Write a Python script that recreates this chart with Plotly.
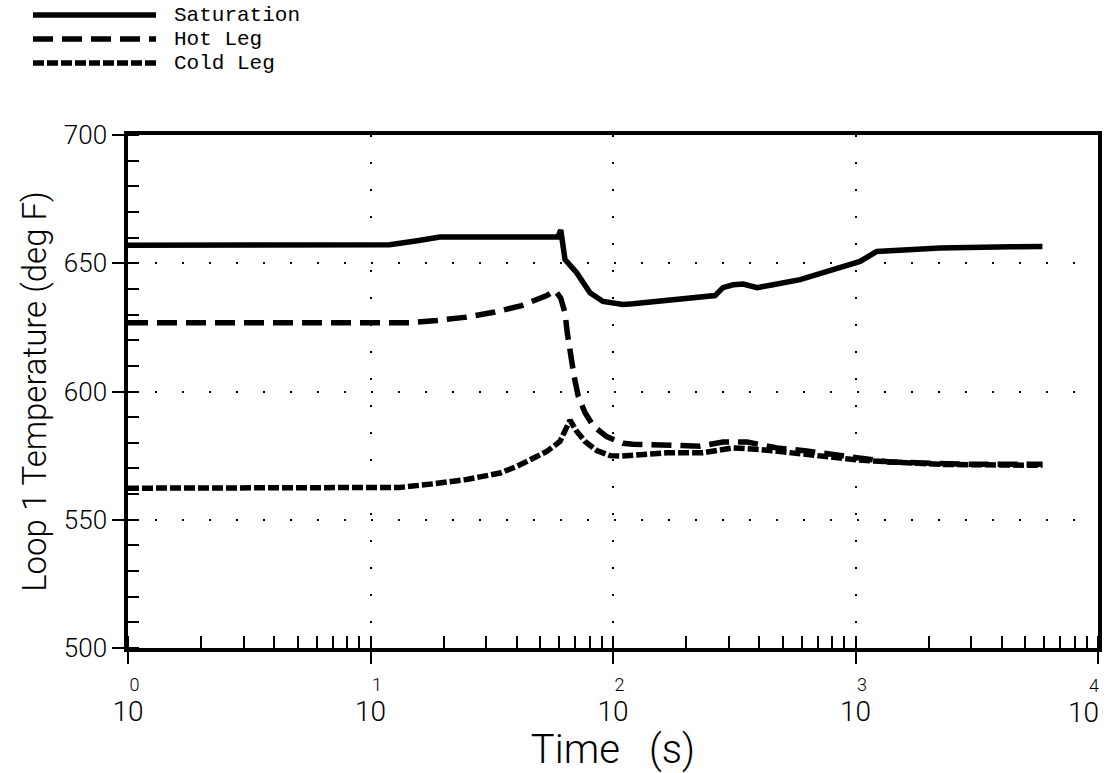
import plotly.graph_objects as go

# ---------------- data ----------------
t_sat = [1, 10.6, 12.0, 15.6, 19.3, 40, 59.3, 60.9, 63.4, 70.8, 80.4, 90.9, 110, 121,
         167, 263.5, 284, 313, 344, 393, 457, 591, 808, 1044, 1223, 2230, 4400, 5900]
sat = [657.0, 657.0, 657.2, 658.8, 660.2, 660.2, 660.2, 663.0, 651.4, 646.3, 638.5, 635.1, 633.9, 634.2,
       635.4, 637.4, 640.5, 641.6, 641.9, 640.5, 641.6, 643.6, 647.5, 650.7, 654.6, 655.9, 656.4, 656.5]

t_hot = [1, 10.6, 14.5, 18.8, 24.9, 32.6, 42, 53.3, 57.7, 60.9, 63.4, 64.8, 66.5, 69.1,
         71.9, 76.7, 83, 94.2, 110, 121, 228, 284, 357, 475, 631, 807, 1387, 3050, 5900]
hot = [626.8, 626.8, 626.8, 627.7, 629.0, 631.0, 633.5, 637.4, 639.4, 636.4, 630.6, 622.8, 615.1, 606.0,
       598.2, 591.7, 586.5, 582.4, 579.8, 579.4, 578.7, 580.3, 580.3, 578.0, 576.8, 575.5, 572.5, 571.6, 571.6]

t_cold = [1, 10.6, 13.2, 18.1, 24.9, 34.2, 40.1, 46.9, 53.3, 60.4, 63.4, 66.5, 70.8, 76.7,
          85.7, 97.2, 107, 167, 235, 313, 404, 590, 977, 1181, 2230, 5900]
cold = [562.3, 562.3, 562.6, 564.0, 565.7, 568.2, 570.8, 574.0, 576.6, 580.5, 584.5, 588.8, 584.5, 580.5,
        577.0, 575.0, 574.8, 576.1, 576.1, 578.0, 577.4, 575.5, 573.5, 572.9, 571.6, 571.2]

series_names = ["Saturation", "Hot Leg", "Cold Leg"]
x_tick_vals = [1, 10, 100, 1000, 10000]
x_tick_exps = ["0", "1", "2", "3", "4"]
y_tick_vals = [500, 550, 600, 650, 700]

# ---------------- styling ----------------
THIN = "Roboto, Liberation Sans, sans-serif"
INK = "#000000"
dashes = ["solid", "20px,9px", "11px,3px"]
LW = 5.5
NB = "\u00a0"

fig = go.Figure()
for name, xs, ys, d in zip(series_names, [t_sat, t_hot, t_cold], [sat, hot, cold], dashes):
    fig.add_trace(go.Scatter(x=xs, y=ys, mode="lines", name=name,
                             line=dict(color=INK, width=LW, dash=d),
                             showlegend=False))

# plot area geometry in pixels (for placing the hand-drawn legend)
L, R, T, B = 128, 1098, 135, 648
W, H = 1112, 773


def px(xp):
    return (xp - L) / (R - L)


def py(yp):
    return (B - yp) / (B - T)


legend_rows = [15, 39, 63]
for name, d, yy in zip(series_names, dashes, legend_rows):
    fig.add_shape(type="line", xref="paper", yref="paper",
                  x0=px(33), x1=px(156), y0=py(yy), y1=py(yy),
                  line=dict(color=INK, width=LW, dash=d))
    fig.add_annotation(xref="paper", yref="paper", x=px(172), y=py(yy),
                       xanchor="left", yanchor="middle", showarrow=False,
                       text=name, font=dict(family="Liberation Mono, DejaVu Sans Mono, monospace",
                                            size=21, color=INK))


def tick_label(e):
    return ("<span style='font-size:18px'>" + NB * 3 + e +
            "</span><br><span style='font-size:28px'>10</span>")


# the last decade label would overflow the page edge if centred, so it is
# right-anchored as an annotation at that tick (as in the reference)
x_tick_text = [tick_label(e) for e in x_tick_exps[:-1]] + [""]
fig.add_annotation(xref="x", yref="paper", x=4, y=py(673),
                   xanchor="right", yanchor="top", xshift=3, showarrow=False, align="right",
                   text="<span style='font-size:18px'>" + x_tick_exps[-1] +
                        "</span><br><span style='font-size:28px'>10</span>",
                   font=dict(family=THIN, size=23, color=INK, weight=300))

fig.update_xaxes(type="log", range=[0, 4], automargin=False,
                 tickmode="array", tickvals=x_tick_vals, ticktext=x_tick_text,
                 ticks="outside", ticklen=12, tickwidth=1.5, tickcolor=INK,
                 tickfont=dict(family=THIN, size=23, color=INK, weight=300),
                 showline=True, linewidth=3.5, linecolor=INK, mirror=True,
                 showgrid=True, gridcolor=INK, gridwidth=1.6, griddash="2px,25px",
                 minor=dict(ticks="inside", ticklen=12, tickwidth=1.5, tickcolor=INK,
                            dtick="D1", showgrid=False),
                 title=dict(text="Time" + NB * 3 + "(s)",
                            font=dict(family=THIN, size=40, color=INK, weight=300), standoff=6),
                 zeroline=False)

fig.update_yaxes(range=[500, 700], tickmode="array", tickvals=y_tick_vals, automargin=False,
                 ticks="outside", ticklen=12, tickwidth=1.5, tickcolor=INK,
                 tickfont=dict(family=THIN, size=26, color=INK, weight=300),
                 showline=True, linewidth=3.5, linecolor=INK, mirror=True,
                 showgrid=True, gridcolor=INK, gridwidth=1.6, griddash="2px,25px",
                 minor=dict(ticks="inside", ticklen=11, tickwidth=1.5, tickcolor=INK,
                            dtick=10, showgrid=False),
                 title=dict(text="Loop 1 Temperature (deg F)",
                            font=dict(family=THIN, size=33, color=INK, weight=300),
                            standoff=8),
                 zeroline=False)

fig.update_layout(width=W, height=H, autosize=False,
                  margin=dict(l=L, r=W - R, t=T, b=H - B, pad=0),
                  paper_bgcolor="white", plot_bgcolor="white",
                  showlegend=False)

fig.write_html("out.html")
